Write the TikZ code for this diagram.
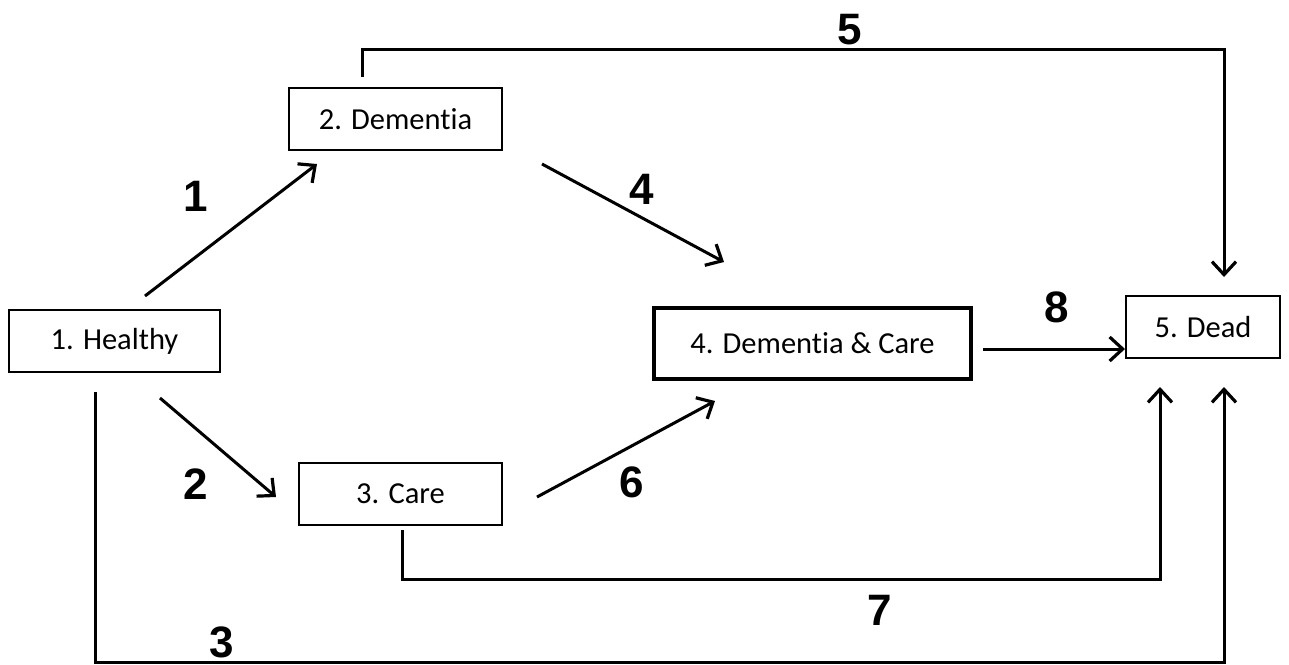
\documentclass[tikz,border=0pt]{standalone}
\usepackage{fontspec}
\setmainfont[Ligatures={NoCommon}]{Carlito}
\newfontfamily\numfont{Liberation Sans}
\usetikzlibrary{arrows.meta}
\begin{document}
\begin{tikzpicture}[x=1pt,y=-1pt,
  statebox/.style={draw, line width=2pt, minimum height=62pt, inner sep=0pt,
    font=\fontsize{30.5}{36}\selectfont},
  trans/.style={line width=3pt, line join=miter,
    -{Straight Barb[length=13pt,width=24pt,line width=3.2pt]}},
  num/.style={font=\numfont\bfseries\fontsize{44}{50}\selectfont, inner sep=0pt}]
\useasboundingbox (0,0) rectangle (1289,664);

% states
\node[statebox, minimum width=211pt] (H) at (114.5,341) {1. Healthy};
\node[statebox, minimum width=213pt] (D) at (395.5,119) {2. Dementia};
\node[statebox, minimum width=203pt] (C) at (400.5,494) {3. Care};
\node[statebox, minimum width=317pt, minimum height=71pt, line width=4.5pt] (DC) at (812.5,343.5) {4. Dementia \& Care};
\node[statebox, minimum width=154pt] (X) at (1203,327) {5. Dead};

% free ends of the transitions
\coordinate (h1) at (145,296);  \coordinate (d1) at (317,164);
\coordinate (h2) at (160,398);  \coordinate (c2) at (276,497);
\coordinate (d4) at (542,164);  \coordinate (dc4) at (724,262);
\coordinate (c6) at (537,497);  \coordinate (dc6) at (715,401);
\coordinate (dc8) at (983,349); \coordinate (x8) at (1125,349);
\coordinate (d5) at (362,77);   \coordinate (x5) at (1224,277);
\coordinate (c7) at (402,530);  \coordinate (x7) at (1160,387);
\coordinate (h3) at (95,392);   \coordinate (x3) at (1224,387);

% transitions
\draw[trans] (h1) -- (d1);
\draw[trans] (h2) -- (c2);
\draw[trans] (d4) -- (dc4);
\draw[trans] (c6) -- (dc6);
\draw[trans] (dc8) -- (x8);
\draw[trans] (d5) -- ++(0,-28) -| (x5);
\draw[trans] (c7) -- ++(0,49) -| (x7);
\draw[trans] (h3) -- ++(0,270) -| (x3);

% transition numbers
\node[num] (n1) at (196,196) {1};
\node[num] (n2) at (196,484) {2};
\node[num] (n3) at (222,642) {3};
\node[num] (n4) at (642,189) {4};
\node[num] (n5) at (850,30) {5};
\node[num] (n6) at (632,482) {6};
\node[num] (n7) at (880,610) {7};
\node[num] (n8) at (1057,307) {8};
\end{tikzpicture}
\end{document}
